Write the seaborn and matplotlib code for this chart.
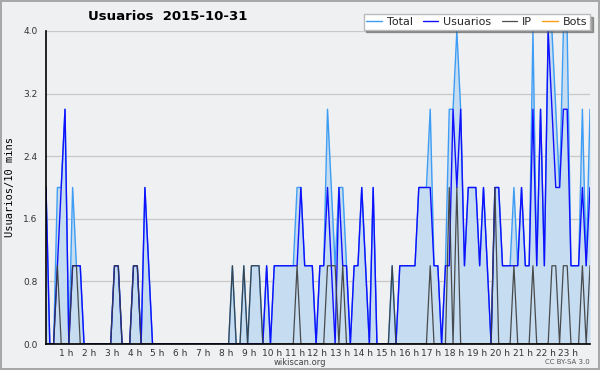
import numpy as np
import pandas as pd
import matplotlib
matplotlib.use("Agg")
import matplotlib.pyplot as plt
import matplotlib.transforms as mtransforms
import seaborn as sns
from matplotlib.ticker import MultipleLocator, FixedLocator

# ---- data: values per 10-minute slot (144 slots, 2015-10-31) ----
total = [2, 0, 0, 2, 2, 3, 0, 2, 1, 1, 0, 0,
         0, 0, 0, 0, 0, 0, 1, 1, 0, 0, 0, 1,
         1, 0, 2, 1, 0, 0, 0, 0, 0, 0, 0, 0,
         0, 0, 0, 0, 0, 0, 0, 0, 0, 0, 0, 0,
         0, 1, 0, 0, 1, 0, 1, 1, 1, 0, 1, 0,
         1, 1, 1, 1, 1, 1, 2, 2, 1, 1, 1, 0,
         1, 1, 3, 2, 1, 2, 2, 1, 0, 1, 1, 2,
         1, 0, 2, 0, 0, 0, 0, 1, 0, 1, 1, 1,
         1, 1, 2, 2, 2, 3, 1, 1, 0, 1, 3, 3,
         4, 3, 1, 2, 2, 2, 1, 2, 1, 0, 2, 2,
         1, 1, 1, 2, 1, 2, 1, 1, 4, 1, 3, 1,
         4, 4, 3, 2, 4, 4, 1, 1, 1, 3, 1, 3]

usuarios = [2, 0, 0, 1, 2, 3, 0, 1, 1, 1, 0, 0,
            0, 0, 0, 0, 0, 0, 1, 1, 0, 0, 0, 1,
            1, 0, 2, 1, 0, 0, 0, 0, 0, 0, 0, 0,
            0, 0, 0, 0, 0, 0, 0, 0, 0, 0, 0, 0,
            0, 0, 0, 0, 0, 0, 0, 0, 0, 0, 1, 0,
            1, 1, 1, 1, 1, 1, 1, 2, 1, 1, 1, 0,
            1, 1, 2, 1, 0, 2, 1, 1, 0, 1, 1, 2,
            1, 0, 2, 0, 0, 0, 0, 0, 0, 1, 1, 1,
            1, 1, 2, 2, 2, 2, 1, 1, 0, 1, 1, 3,
            2, 3, 1, 2, 2, 2, 1, 2, 1, 0, 2, 2,
            1, 1, 1, 1, 1, 2, 1, 1, 3, 1, 3, 1,
            4, 3, 2, 2, 3, 3, 1, 1, 1, 2, 1, 2]

ip = [0, 0, 0, 1, 0, 0, 0, 1, 1, 0, 0, 0,
      0, 0, 0, 0, 0, 0, 1, 1, 0, 0, 0, 1,
      1, 0, 0, 0, 0, 0, 0, 0, 0, 0, 0, 0,
      0, 0, 0, 0, 0, 0, 0, 0, 0, 0, 0, 0,
      0, 1, 0, 0, 1, 0, 1, 1, 1, 0, 0, 0,
      0, 0, 0, 0, 0, 0, 1, 0, 0, 0, 0, 0,
      0, 0, 1, 1, 1, 0, 1, 0, 0, 0, 0, 0,
      0, 0, 0, 0, 0, 0, 0, 1, 0, 0, 0, 0,
      0, 0, 0, 0, 0, 1, 0, 0, 0, 0, 2, 0,
      2, 0, 0, 0, 0, 0, 0, 0, 0, 0, 2, 0,
      0, 0, 0, 1, 0, 0, 0, 0, 1, 0, 0, 0,
      0, 1, 1, 0, 1, 1, 0, 0, 0, 1, 0, 1]

bots = [0, 0, 0, 0, 0, 0, 0, 0, 0, 0, 0, 0,
        0, 0, 0, 0, 0, 0, 0, 0, 0, 0, 0, 0,
        0, 0, 0, 0, 0, 0, 0, 0, 0, 0, 0, 0,
        0, 0, 0, 0, 0, 0, 0, 0, 0, 0, 0, 0,
        0, 0, 0, 0, 0, 0, 0, 0, 0, 0, 0, 0,
        0, 0, 0, 0, 0, 0, 0, 0, 0, 0, 0, 0,
        0, 0, 0, 0, 0, 0, 0, 0, 0, 0, 0, 0,
        0, 0, 0, 0, 0, 0, 0, 0, 0, 0, 0, 0,
        0, 0, 0, 0, 0, 0, 0, 0, 0, 0, 0, 0,
        0, 0, 0, 0, 0, 0, 0, 0, 0, 0, 0, 0,
        0, 0, 0, 0, 0, 0, 0, 0, 0, 0, 0, 0,
        0, 0, 0, 0, 0, 0, 0, 0, 0, 0, 0, 0]

hour_labels = [f"{h} h" for h in range(1, 24)]
y_ticks = [0.0, 0.8, 1.6, 2.4, 3.2, 4.0]

title = "Usuarios  2015-10-31"
ylabel = "Usuarios/10 mins"

# ---- build table ----
hours = np.arange(len(total)) / 6.0
df = pd.DataFrame({"hora": hours, "Total": total, "Usuarios": usuarios,
                   "IP": ip, "Bots": bots})

sns.set_style("white")
plt.rcParams["font.family"] = ["DejaVu Sans"]

BG = "#eff0f1"
fig = plt.figure(figsize=(6.0, 3.7), dpi=100, facecolor=BG)
fig.patch.set_edgecolor("#a8a8a8")
fig.patch.set_linewidth(1.5)
ax = fig.add_axes([46 / 600, 1 - 344 / 370, 544 / 600, 313 / 370])
ax.set_facecolor(BG)

col_total = "#3d9df5"
col_fill = "#c6dcf0"
col_user = "#1010ff"
col_ip = "#3a3a3a"
col_bots = "#ff9c1a"

ax.fill_between(df["hora"], df["Total"], 0, color=col_fill, linewidth=0, zorder=1)
sns.lineplot(data=df, x="hora", y="Bots", ax=ax, color=col_bots, lw=1.0,
             label="Bots", zorder=1.5)
sns.lineplot(data=df, x="hora", y="Total", ax=ax, color=col_total, lw=1.0,
             label="Total", zorder=2)
sns.lineplot(data=df, x="hora", y="Usuarios", ax=ax, color=col_user, lw=1.0,
             label="Usuarios", zorder=3)
sns.lineplot(data=df, x="hora", y="IP", ax=ax, color=col_ip, lw=0.9,
             alpha=0.9, label="IP", zorder=4)

ax.set_xlim(0, hours[-1])
ax.set_ylim(0, 4.0)

# grid
for v in y_ticks[1:]:
    ax.axhline(v, color="#c8c8c8", lw=0.9, zorder=0.5)

for s in ["top", "right"]:
    ax.spines[s].set_visible(False)
for s in ["left", "bottom"]:
    ax.spines[s].set_color("black")
    ax.spines[s].set_linewidth(1.2)
    ax.spines[s].set_zorder(6)

ax.yaxis.set_major_locator(FixedLocator(y_ticks))
ax.set_yticklabels([f"{v:.1f}" for v in y_ticks])
ax.yaxis.set_minor_locator(MultipleLocator(0.2))
ax.xaxis.set_major_locator(FixedLocator(list(range(1, 24))))
ax.set_xticklabels(hour_labels)
ax.xaxis.set_minor_locator(MultipleLocator(1 / 6))

ax.tick_params(axis="y", which="major", direction="out", length=5, width=1,
               labelsize=6.5, pad=1, colors="black")
ax.tick_params(axis="y", which="minor", direction="out", length=3, width=1,
               colors="black")
ax.tick_params(axis="x", which="major", direction="out", length=3, width=1,
               labelsize=6.5, pad=0.5, colors="black")
ax.tick_params(axis="x", which="minor", direction="out", length=3, width=1,
               colors="black")
shift = mtransforms.ScaledTranslation(-2.5 / 100, 0, fig.dpi_scale_trans)
for lab in ax.get_xticklabels():
    lab.set_color("#333333")
    lab.set_transform(lab.get_transform() + shift)
for lab in ax.get_yticklabels():
    lab.set_color("#333333")

ax.set_xlabel("")
ax.set_ylabel("")

fig.text(10 / 600, 1 - 187 / 370, ylabel, rotation=90, ha="center", va="center",
         fontsize=7.5, family="DejaVu Sans Mono", color="black")
fig.text(88 / 600, 1 - 17 / 370, title, ha="left", va="center",
         fontsize=9.5, fontweight="bold", color="black")
fig.text(300 / 600, 1 - 362.5 / 370, "wikiscan.org", ha="center", va="center",
         fontsize=6, color="#444444")
fig.text(590 / 600, 1 - 362.5 / 370, "CC BY-SA 3.0", ha="right", va="center",
         fontsize=5, color="#555555")

handles, labels = ax.get_legend_handles_labels()
order = ["Total", "Usuarios", "IP", "Bots"]
hmap = dict(zip(labels, handles))
leg = ax.legend([hmap[k] for k in order], order, ncol=4, loc="upper right",
                bbox_to_anchor=(590 / 600, 1 - 14 / 370),
                bbox_transform=fig.transFigure, fontsize=8, frameon=True,
                fancybox=False, shadow=True, handlelength=1.4,
                handletextpad=0.45, columnspacing=0.9, borderpad=0.25,
                borderaxespad=0)
leg.get_frame().set_facecolor("white")
leg.get_frame().set_edgecolor("#bbbbbb")
leg.get_frame().set_alpha(1)
leg.set_zorder(10)

fig.savefig("out.png", dpi=100, facecolor=BG, edgecolor=fig.patch.get_edgecolor())
